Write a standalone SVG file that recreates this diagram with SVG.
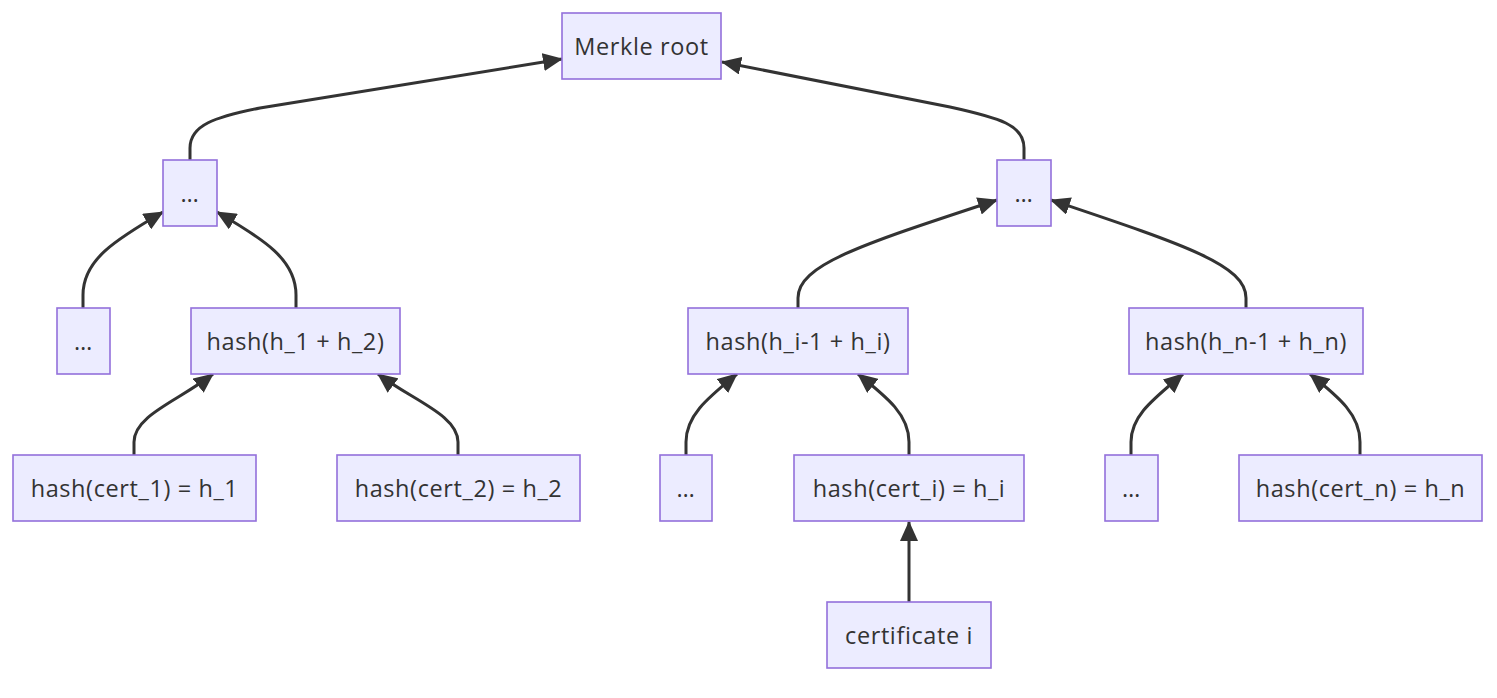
<svg xmlns="http://www.w3.org/2000/svg" width="1497" height="698" viewBox="0 0 1497 698">
<style>
.node rect{fill:#ECECFF;stroke:#9370DB;stroke-width:1.6}
.node text{font-family:"Open Sans","Liberation Sans",sans-serif;font-size:23.5px;letter-spacing:0.6px;fill:#333;text-anchor:middle;dominant-baseline:central}
.edges path{fill:none;stroke:#333;stroke-width:3;marker-end:url(#arr)}
</style>
<defs>
<marker id="arr" markerUnits="userSpaceOnUse" markerWidth="20" markerHeight="18" refX="19" refY="9" orient="auto" viewBox="0 0 20 18">
<path d="M0,0 L20,9 L0,18 z" fill="#333"/>
</marker>
</defs>
<rect width="1497" height="698" fill="#fff"/>
<g class="edges">
<path d="M190,160 V148 C190,125 215,117 260,108 L562,59"/>
<path d="M1024,160 V148 C1024,125 1000,118 950,107 L722,62"/>
<path d="M83,308 V295 C83,260 115,240 163,212"/>
<path d="M296,308 V295 C296,260 265,240 217,212"/>
<path d="M798,308 V298 C798,265 860,245 997,200"/>
<path d="M1246,308 V298 C1246,265 1185,245 1051,200"/>
<path d="M134,455 V442 C134,415 180,400 213,374"/>
<path d="M458,455 V442 C458,415 412,400 378,374"/>
<path d="M686,455 V442 C686,415 708,398 737,374"/>
<path d="M909,455 V442 C909,415 888,398 858,374"/>
<path d="M1131,455 V442 C1131,415 1155,398 1183,374"/>
<path d="M1360,455 V442 C1360,415 1340,398 1310,374"/>
<path d="M909,602 V522"/>
</g>
<g id="root" class="node"><rect x="562" y="13" width="159" height="66"/><text x="641.5" y="46">Merkle root</text></g>
<g id="l2a" class="node"><rect x="163" y="160" width="54" height="66"/><text x="190" y="193">…</text></g>
<g id="l2b" class="node"><rect x="997" y="160" width="54" height="66"/><text x="1024" y="193">…</text></g>
<g id="l3a" class="node"><rect x="57" y="308" width="53" height="66"/><text x="83.5" y="341">…</text></g>
<g id="h12" class="node"><rect x="191" y="308" width="209" height="66"/><text x="295.5" y="341">hash(h_1 + h_2)</text></g>
<g id="hi" class="node"><rect x="688" y="308" width="220" height="66"/><text x="798" y="341">hash(h_i-1 + h_i)</text></g>
<g id="hn" class="node"><rect x="1129" y="308" width="234" height="66"/><text x="1246" y="341">hash(h_n-1 + h_n)</text></g>
<g id="c1" class="node"><rect x="13" y="455" width="243" height="66"/><text x="134.5" y="488">hash(cert_1) = h_1</text></g>
<g id="c2" class="node"><rect x="337" y="455" width="243" height="66"/><text x="458.5" y="488">hash(cert_2) = h_2</text></g>
<g id="l4a" class="node"><rect x="660" y="455" width="52" height="66"/><text x="686" y="488">…</text></g>
<g id="ci" class="node"><rect x="794" y="455" width="230" height="66"/><text x="909" y="488">hash(cert_i) = h_i</text></g>
<g id="l4b" class="node"><rect x="1105" y="455" width="53" height="66"/><text x="1131.5" y="488">…</text></g>
<g id="cn" class="node"><rect x="1239" y="455" width="243" height="66"/><text x="1360.5" y="488">hash(cert_n) = h_n</text></g>
<g id="cert" class="node"><rect x="827" y="602" width="164" height="66"/><text x="909" y="635">certificate i</text></g>
</svg>
